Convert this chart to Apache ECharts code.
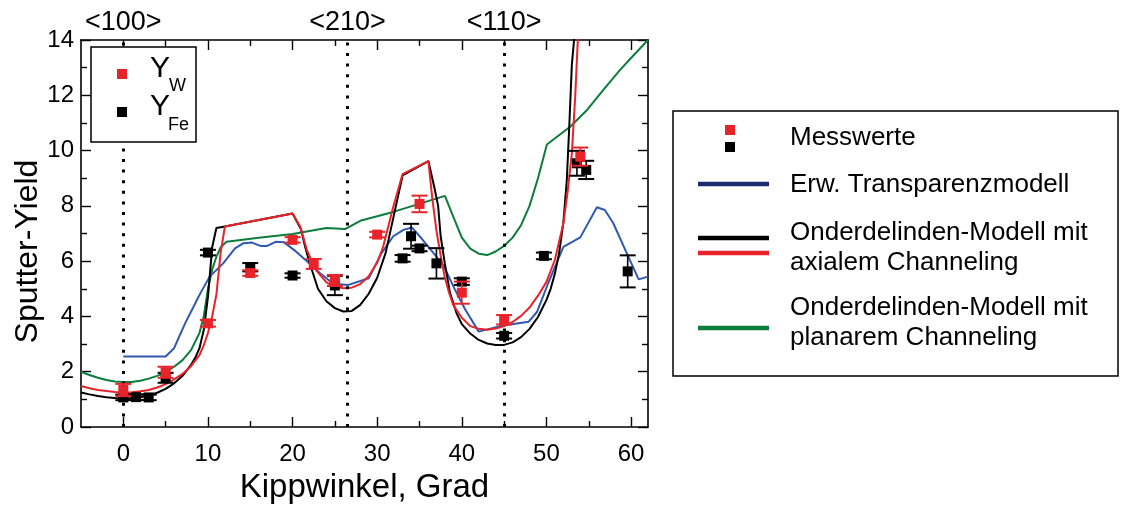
<!DOCTYPE html>
<html>
<head>
<meta charset="utf-8">
<script src="https://cdn.jsdelivr.net/npm/echarts@6/dist/echarts.min.js"></script>
<style>
  html, body { margin: 0; padding: 0; background: #fff; }
  #chart { width: 1121px; height: 507px; }
</style>
</head>
<body>
<div id="chart"></div>
<script>
// Measured sputter yields (tilt angle in degrees, yield, error)
const wAngles = [0, 5, 10, 15, 20, 22.5, 25, 30, 35, 40, 45, 54];
const wYield  = [1.34, 1.98, 3.75, 5.57, 6.77, 5.9, 5.3, 6.96, 8.07, 4.86, 3.88, 9.78];
const wErr    = [0.22, 0.2, 0.12, 0.1, 0.1, 0.18, 0.2, 0.1, 0.3, 0.4, 0.17, 0.33];

const feAngles = [0, 1.5, 3, 5, 10, 15, 20, 25, 33, 34, 35, 37, 40, 45, 49.7, 53.6, 54.7, 59.6];
const feYield  = [1.07, 1.08, 1.07, 1.78, 6.31, 5.78, 5.48, 5.12, 6.1, 6.9, 6.46, 5.92, 5.26, 3.3, 6.19, 9.54, 9.3, 5.63];
const feErr    = [0.1, 0.1, 0.1, 0.18, 0.1, 0.15, 0.08, 0.35, 0.12, 0.45, 0.1, 0.55, 0.12, 0.1, 0.12, 0.45, 0.33, 0.58];

// Model curves [angle, yield]
const axialFe = [[-5,1.25],[-4,1.18],[-3,1.12],[-2,1.08],[-1,1.05],[0,1.04],[1,1.05],[2,1.08],[3,1.14],[4,1.24],[5,1.38],[6,1.58],[7,1.85],[8,2.25],[8.5,2.5],[9,2.85],[9.5,3.5],[10,4.7],[10.5,6.5],[11,7.2],[12,7.25],[20,7.72],[21,7.15],[21.5,6.5],[22,5.95],[23,5.0],[24,4.55],[25,4.3],[26,4.18],[27,4.2],[28,4.42],[29,4.82],[30,5.4],[31,6.3],[32,7.7],[33,9.1],[36.05,9.62],[36.8,8.6],[37.2,8.0],[37.5,6.9],[38,5.9],[38.6,4.85],[39.4,4.1],[40,3.72],[41,3.38],[42,3.15],[43,3.02],[44,2.97],[45,2.97],[46,3.06],[47,3.25],[48,3.55],[49,3.98],[50,4.6],[50.5,5.0],[51,5.55],[51.5,6.3],[52,7.4],[52.4,8.9],[52.7,10.9],[53,13.1],[53.35,14.3]];
const axialW = [[-5,1.48],[-4,1.4],[-3,1.34],[-2,1.3],[-1,1.27],[0,1.25],[1,1.26],[2,1.29],[3,1.34],[4,1.43],[5,1.55],[6,1.72],[7,1.92],[8,2.2],[9,2.6],[9.5,2.95],[10,3.4],[10.5,4.0],[11,4.8],[11.5,6.3],[12,7.25],[20,7.72],[20.9,7.25],[21.7,6.4],[22.7,5.7],[24,5.23],[25,5.08],[26,5.02],[27,5.04],[28,5.17],[29,5.45],[30,5.95],[30.7,6.52],[31.9,7.97],[33,9.15],[36.05,9.62],[36.5,8.3],[37,7.1],[37.5,6.2],[38,5.4],[38.5,4.85],[39,4.4],[40,3.95],[41,3.65],[42,3.55],[43,3.52],[44,3.56],[45,3.65],[46,3.8],[47,4.02],[48,4.32],[49,4.75],[50,5.25],[51,6.05],[52,7.37],[52.5,8.5],[53,9.9],[53.4,11.95],[53.75,14.3]];
const transparenz = [[0,2.55],[5,2.55],[6,2.85],[7.3,3.75],[8.3,4.35],[9,4.78],[10.2,5.44],[11.8,5.92],[13.2,6.46],[14.2,6.65],[15.2,6.67],[16.2,6.55],[17,6.55],[18,6.7],[19,6.68],[20.2,6.4],[21.7,6.0],[23.25,5.56],[24.8,5.18],[26.6,5.14],[29,5.38],[30.5,6.28],[31.9,6.9],[33.1,7.13],[34.1,7.22],[35.3,6.8],[37,6.16],[37.8,5.86],[39.2,4.96],[40.4,4.25],[42,3.45],[44.5,3.65],[47.9,3.81],[48.9,4.17],[50.2,5.2],[52,6.52],[54,6.86],[55.96,7.95],[56.9,7.85],[57.9,7.37],[59.5,6.28],[60.9,5.34],[62,5.44]];
const planar = [[-5,2.0],[-4,1.88],[-3,1.78],[-2,1.7],[-1,1.65],[0,1.63],[1,1.63],[2,1.67],[3,1.75],[4,1.85],[5,1.98],[6,2.18],[7,2.42],[8,2.78],[9,3.4],[9.5,4.0],[10,5.0],[10.5,5.7],[11,6.16],[11.5,6.5],[12.2,6.7],[16,6.85],[20,6.98],[24,7.2],[26.2,7.16],[28,7.46],[32,7.79],[38,8.36],[39,7.6],[40,6.85],[41,6.45],[42,6.27],[43,6.22],[44,6.35],[45,6.55],[46,6.85],[47,7.3],[48,8.0],[49,9.0],[50.05,10.22],[52.8,10.86],[54.8,11.47],[56.7,12.19],[58.7,12.92],[60.3,13.45],[62,14.0]];

// Crystal directions marked along the tilt axis
const directionNames  = ['<100>', '<210>', '<110>'];
const directionAngles = [0, 26.5, 45];

// Axis ticks
const xMajorTicks = [0, 10, 20, 30, 40, 50, 60];
const xMinorTicks = [5, 15, 25, 35, 45, 55];

const FONT = "'Liberation Sans', Arial, sans-serif";
const RED = '#e8232a', BLACK = '#000000', BLUE = '#2f58b0', GREEN = '#0b7d3c';

function zip3(a, b, c) { return a.map((v, i) => [v, b[i], c[i]]); }

function errorBarRenderer(color) {
  return function (params, api) {
    const x = api.value(0), y = api.value(1), e = api.value(2);
    const c = api.coord([x, y]);
    const top = api.coord([x, y + e]);
    const bot = api.coord([x, y - e]);
    const cap = 8, s = 10;
    return {
      type: 'group',
      children: [
        { type: 'line', shape: { x1: c[0], y1: top[1], x2: c[0], y2: bot[1] }, style: { stroke: color, lineWidth: 1.6 } },
        { type: 'line', shape: { x1: c[0] - cap, y1: top[1], x2: c[0] + cap, y2: top[1] }, style: { stroke: color, lineWidth: 2 } },
        { type: 'line', shape: { x1: c[0] - cap, y1: bot[1], x2: c[0] + cap, y2: bot[1] }, style: { stroke: color, lineWidth: 2 } },
        { type: 'rect', shape: { x: c[0] - s / 2, y: c[1] - s / 2, width: s, height: s }, style: { fill: color } }
      ]
    };
  };
}

function xAxisDef(position, ticks, len, withLabels, withLine) {
  return {
    type: 'value', position: position, min: -5, max: 62,
    axisLine: { show: withLine, onZero: false, lineStyle: { color: '#000', width: 1.6 } },
    axisTick: { show: true, inside: true, length: len, customValues: ticks, lineStyle: { color: '#000', width: 1.4 } },
    axisLabel: withLabels
      ? { show: true, customValues: xMajorTicks, margin: 15, color: '#000', fontSize: 24, fontFamily: FONT }
      : { show: false },
    splitLine: { show: false }
  };
}

function yAxisDef(position, withLabels) {
  return {
    type: 'value', position: position, min: 0, max: 14, interval: 2,
    axisLine: { show: true, onZero: false, lineStyle: { color: '#000', width: 1.6 } },
    axisTick: { show: true, inside: true, length: 10, lineStyle: { color: '#000', width: 1.4 } },
    minorTick: { show: true, splitNumber: 2, length: 6, lineStyle: { color: '#000', width: 1.4 } },
    axisLabel: withLabels
      ? { show: true, margin: 7, color: '#000', fontSize: 24, fontFamily: FONT }
      : { show: false },
    splitLine: { show: false },
    name: withLabels ? 'Sputter-Yield' : '',
    nameLocation: 'middle',
    nameGap: 37,
    nameMoveOverlap: false,
    nameTextStyle: { fontSize: 32, color: '#000', fontFamily: FONT, padding: [0, 36, 0, 0] }
  };
}

const xAxes = [
  xAxisDef('bottom', xMajorTicks, 10, true, true),
  xAxisDef('bottom', xMinorTicks, 6, false, false),
  xAxisDef('top', xMajorTicks, 10, false, true),
  xAxisDef('top', xMinorTicks, 6, false, false)
];
xAxes[0].name = 'Kippwinkel, Grad';
xAxes[0].nameLocation = 'middle';
xAxes[0].nameGap = 44;
xAxes[0].nameTextStyle = { fontSize: 33, color: '#000', fontFamily: FONT };

const chart = echarts.init(document.getElementById('chart'), null, { renderer: 'canvas' });

const lineSeries = (name, data, color) => ({
  name: name, type: 'line', data: data, xAxisIndex: 0, yAxisIndex: 0,
  showSymbol: false, symbol: 'none', clip: true, smooth: false,
  lineStyle: { color: color, width: 2 }, z: 3, silent: true
});

const directionLines = lineSeries('Richtungen', [], BLACK);
directionLines.z = 2;
directionLines.markLine = {
  silent: true, symbol: 'none',
  lineStyle: { color: '#000', type: [3, 7.6], width: 3, cap: 'butt' },
  label: { show: true, position: 'end', formatter: '{b}', color: '#000', fontSize: 27, fontFamily: FONT, distance: 4 },
  data: directionAngles.map((a, i) => ({ xAxis: a, name: directionNames[i] }))
};

// Key elements sit above the plot content
const KEY_Z = 100;
const keyRect = (x, y, w, h, fill, stroke) => ({
  type: 'rect', z: KEY_Z, shape: { x: x, y: y, width: w, height: h },
  style: stroke ? { fill: fill, stroke: stroke, lineWidth: 1.5 } : { fill: fill }
});
const keyLine = (x1, x2, y, color) => ({
  type: 'line', z: KEY_Z, shape: { x1: x1, y1: y, x2: x2, y2: y }, style: { stroke: color, lineWidth: 4.5 }
});
const keyText = (x, y, text, size, valign) => ({
  type: 'text', z: KEY_Z + 1, x: x, y: y,
  style: { text: text, font: size + 'px ' + FONT, fill: '#000', textVerticalAlign: valign }
});

chart.setOption({
  animation: false,
  backgroundColor: '#ffffff',
  grid: { left: 81, right: 473, top: 40, bottom: 80, outerBoundsMode: 'none', containLabel: false },
  xAxis: xAxes,
  yAxis: [yAxisDef('left', true), yAxisDef('right', false)],
  series: [
    directionLines,
    lineSeries('Onderdelinden-Modell mit planarem Channeling', planar, GREEN),
    lineSeries('Erw. Transparenzmodell', transparenz, BLUE),
    lineSeries('Onderdelinden-Modell mit axialem Channeling (Fe)', axialFe, BLACK),
    lineSeries('Onderdelinden-Modell mit axialem Channeling (W)', axialW, RED),
    {
      name: 'Y_Fe', type: 'custom', xAxisIndex: 0, yAxisIndex: 0, z: 4, silent: true,
      renderItem: errorBarRenderer(BLACK), data: zip3(feAngles, feYield, feErr)
    },
    {
      name: 'Y_W', type: 'custom', xAxisIndex: 0, yAxisIndex: 0, z: 5, silent: true,
      renderItem: errorBarRenderer(RED), data: zip3(wAngles, wYield, wErr)
    }
  ],
  graphic: [
    // symbol key inside the plot
    keyRect(91, 47, 105, 95, '#fff', '#000'),
    keyRect(117, 69, 10, 10, RED),
    keyRect(117, 107, 10, 10, BLACK),
    keyText(150, 84, 'Y', 30, 'bottom'),
    keyText(169, 95, 'W', 18, 'bottom'),
    keyText(150, 122, 'Y', 30, 'bottom'),
    keyText(168, 134, 'Fe', 18, 'bottom'),
    // model key to the right of the plot
    keyRect(673, 111, 445, 265, '#fff', '#000'),
    keyRect(725, 125, 10, 10, RED),
    keyRect(725, 142, 10, 10, BLACK),
    keyText(790, 138, 'Messwerte', 26, 'middle'),
    keyLine(698, 769, 184, '#1b2a70'),
    keyText(790, 185, 'Erw. Transparenzmodell', 26, 'middle'),
    keyLine(698, 769, 238, BLACK),
    keyLine(698, 769, 253, RED),
    keyText(790, 233, 'Onderdelinden-Modell mit', 26, 'middle'),
    keyText(790, 263, 'axialem Channeling', 26, 'middle'),
    keyLine(698, 769, 328, GREEN),
    keyText(790, 308, 'Onderdelinden-Modell mit', 26, 'middle'),
    keyText(790, 338, 'planarem Channeling', 26, 'middle')
  ]
});
</script>
</body>
</html>
